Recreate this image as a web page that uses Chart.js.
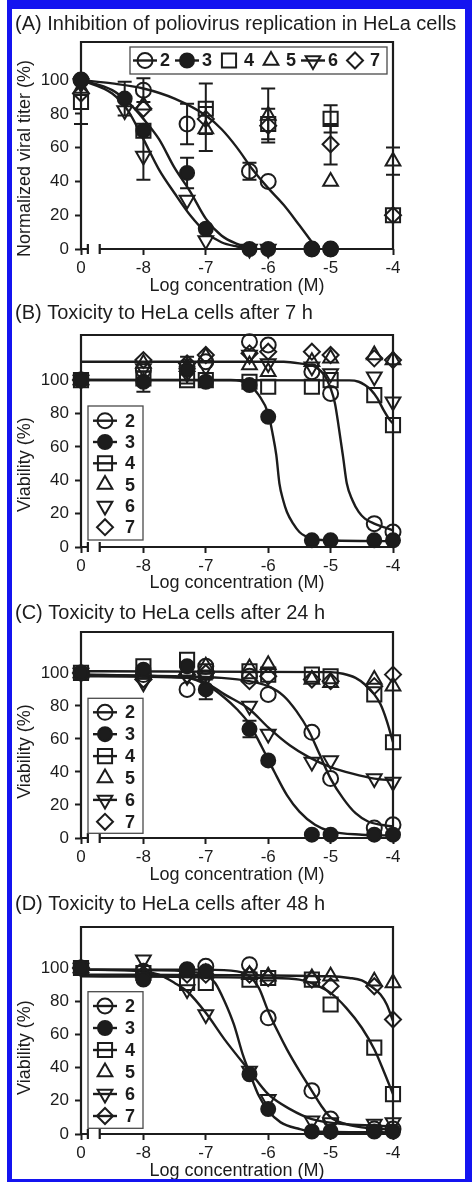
<!DOCTYPE html>
<html>
<head>
<meta charset="utf-8">
<script src="https://cdn.jsdelivr.net/npm/chart.js@4.4.1/dist/chart.umd.min.js"></script>
<style>
  html, body { margin: 0; padding: 0; background: #fff; }
  #page { position: relative; width: 472px; height: 1182px; overflow: hidden; background: #fff; }
  #page canvas { position: absolute; left: 0; }
  #frame { position: absolute; left: 7px; top: 0; width: 465px; height: 1182px; box-sizing: border-box;
           border: solid #1414f0; border-width: 9px 7px 3px 5px; pointer-events: none; }
</style>
</head>
<body>
<div id="page">
  <canvas id="panelA" width="472" height="297" style="top:0px"></canvas>
  <canvas id="panelB" width="472" height="297" style="top:297px"></canvas>
  <canvas id="panelC" width="472" height="292" style="top:594px"></canvas>
  <canvas id="panelD" width="472" height="296" style="top:886px"></canvas>
  <div id="frame"></div>
</div>
<script>
// log concentration (M); -9 is where the untreated "0" sample is plotted
const logConc = [-9, -8.3, -8, -7.3, -7, -6.3, -6, -5.3, -5, -4.3, -4];
const xTickValues = [-9, -8, -7, -6, -5, -4];
const yTickValues = [0, 20, 40, 60, 80, 100];
const compounds = ['2', '3', '4', '5', '6', '7'];

// (A) normalized viral titer (%) and error bars
const titerA2 = [100, null, 94, 74, null, 46, 40, 0, 0, null, null];
const titerA3 = [100, 89, 70, 45, 12, 0, 0, 0, 0, null, null];
const titerA4 = [87, null, 70, null, 83, null, 74, null, 77, null, 20];
const titerA5 = [95, null, 85, null, 71, null, 79, null, 40, null, 52];
const titerA6 = [98, 82, 55, 29, 5, 0, 0, null, null, null, null];
const titerA7 = [92, null, 83, null, 77, null, 73, null, 62, null, 20];
const errA2 = [null, null, 7, 12, null, 5, null, null, null, null, null];
const errA3 = [null, 10, null, 9, null, null, null, null, null, null, null];
const errA4 = [13, null, null, null, 15, null, 9, null, 8, null, null];
const errA5 = [null, null, null, null, 13, null, 16, null, null, null, 8];
const errA6 = [null, null, 14, null, null, null, null, null, null, null, null];
const errA7 = [null, null, null, null, null, null, null, null, 12, null, null];

// (B) viability after 7 h (%)
const viabB2 = [100, null, 106, 108, 111, 123, 121, 105, 92, 14, 9];
const viabB3 = [100, null, 99, 106, 99, 97, 78, 4, 4, 4, 4];
const viabB4 = [100, null, 101, 100, 100, 99, 96, 96, 100, 91, 73];
const viabB5 = [100, null, 110, 108, 114, 109, 105, 111, 113, 115, 112];
const viabB6 = [100, null, 107, 104, 108, 115, 110, 108, 104, 102, 87];
const viabB7 = [100, null, 112, 110, 115, 116, 117, 117, 115, 113, 112];
const errB3 = [null, null, 6, 8, null, null, null, null, null, null, null];

// (C) viability after 24 h (%)
const viabC2 = [100, null, 99, 90, 104, 98, 87, 64, 36, 6, 8];
const viabC3 = [100, null, 102, 104, 90, 66, 47, 2, 2, 2, 2];
const viabC4 = [100, null, 104, 108, 101, 101, 99, 99, 98, 87, 58];
const viabC5 = [100, null, 99, 101, 104, 103, 105, 96, 94, 96, 92];
const viabC6 = [100, null, 94, 98, 97, 80, 63, 46, 47, 36, 34];
const viabC7 = [100, null, 96, 99, 100, 95, 98, 96, 95, 92, 99];
const errC3 = [null, null, null, null, 6, 5, null, null, null, null, null];

// (D) viability after 48 h (%)
const viabD2 = [100, null, 98, 99, 101, 102, 70, 26, 9, 3, 3];
const viabD3 = [100, null, 93, 99, 98, 36, 15, 1.5, 1.5, 1.5, 1.5];
const viabD4 = [100, null, 97, 91, 91, 93, 94, 93, 78, 52, 24];
const viabD5 = [100, null, 97, 97, 97, 96, 95, 94, 95, 92, 91];
const viabD6 = [100, null, 105, 87, 72, 38, 21, 8, 7, 6, 7];
const viabD7 = [100, null, 96, 96, 96, 96, 94, 93, 89, 89, 69];

// fitted curves
const fitA2x = [-9, -8.5, -8, -7.5, -7, -6.75, -6.5, -6.25, -6, -5.75, -5.5, -5.22];
const fitA2y = [100, 98, 95, 89, 79, 71, 60, 47, 36, 26, 14, 0];
const fitA3x = [-9, -8.5, -8.25, -8, -7.75, -7.5, -7.25, -7, -6.75, -6.5, -6.25];
const fitA3y = [100, 94, 87, 77, 65, 48, 34, 18, 8, 3, 0];
const fitA6x = [-9, -8.5, -8.25, -8, -7.75, -7.5, -7.25, -7, -6.75, -6.5, -6.25];
const fitA6y = [100, 92, 82, 65, 47, 33, 20, 10, 4, 1.5, 0];

const fitB2x = [-9, -5.75, -5.5, -5.25, -5.1, -5, -4.93, -4.87, -4.8, -4.74, -4.65, -4.55, -4.45, -4.3, -4];
const fitB2y = [111, 111, 110, 108, 103, 95, 86, 72, 54, 38, 28, 21, 17, 14, 10];
const fitB3x = [-9, -6.6, -6.45, -6.3, -6.15, -6, -5.93, -5.87, -5.82, -5.76, -5.7, -5.6, -5.5, -5.38, -5.3, -4];
const fitB3y = [100, 100, 99.5, 97, 91, 80, 68, 55, 38, 28, 21, 14, 9, 6, 4.5, 3.5];
const fitB4x = [-9, -4.7, -4.55, -4.45, -4.35, -4.25, -4.15, -4.05, -4];
const fitB4y = [100, 99.8, 99, 97, 94, 89, 82, 76, 74];

const fitC2x = [-9, -7.5, -6.75, -6.3, -6, -5.75, -5.55, -5.35, -5.18, -5, -4.8, -4.6, -4.4, -4.2, -4];
const fitC2y = [99, 98, 97, 95, 92, 86, 77, 65, 51, 36, 24, 15, 10, 8, 7];
const fitC3x = [-9, -7.3, -7, -6.7, -6.5, -6.3, -6.1, -5.9, -5.7, -5.5, -5.25, -5, -4.5, -4];
const fitC3y = [99, 97, 93, 85, 78, 69, 55, 40, 26, 16, 8, 4, 2, 1.5];
const fitC4x = [-9, -5, -4.8, -4.6, -4.45, -4.3, -4.2, -4.1, -4];
const fitC4y = [101, 100.5, 99.5, 97, 93, 87, 81, 71, 58];
const fitC6x = [-9, -7.3, -7, -6.7, -6.3, -6, -5.65, -5.35, -5, -4.65, -4.3, -4];
const fitC6y = [98, 97, 94, 87, 78, 67, 56, 49, 43, 39, 36, 35];

const fitD2x = [-9, -7, -6.5, -6.3, -6.15, -6, -5.85, -5.7, -5.5, -5.3, -5.15, -5, -4.75, -4.5, -4];
const fitD2y = [99, 99, 98, 95, 88, 74, 62, 51, 38, 26, 17, 10, 6, 4, 2.5];
const fitD3x = [-9, -7.5, -7.2, -7, -6.85, -6.7, -6.55, -6.4, -6.3, -6.15, -6, -5.8, -5.5, -5.3, -4];
const fitD3y = [99, 98.5, 97.5, 96, 91, 80, 66, 47, 37, 23, 14, 7, 3, 1.5, 1];
const fitD4x = [-9, -6, -5.5, -5.25, -5, -4.75, -4.5, -4.3, -4.15, -4];
const fitD4y = [95, 94, 93, 90, 85, 76, 64, 51, 38, 24];
const fitD6x = [-9, -8, -7.75, -7.5, -7.3, -7, -6.7, -6.3, -6, -5.65, -5.3, -4.8, -4.3, -4];
const fitD6y = [99, 98, 96, 91, 86, 73, 57, 38, 24, 15, 9, 6, 5, 4.5];
const fitD7x = [-9, -5, -4.7, -4.5, -4.35, -4.2, -4.1, -4];
const fitD7y = [96, 95, 94, 92.5, 89, 84, 78, 68];

const INK = '#1c1c1c';
const FONT = "'Liberation Sans', Arial, Helvetica, sans-serif";
const AXIS_BREAK = [-8.89, -8.7];

const markers = {
  '2': { style: 'circle', radius: 7.5, rotation: 0, filled: false },
  '3': { style: 'circle', radius: 7, rotation: 0, filled: true },
  '4': { style: 'rect', radius: 10, rotation: 0, filled: false },
  '5': { style: 'triangle', radius: 8.5, rotation: 0, filled: false },
  '6': { style: 'triangle', radius: 8.5, rotation: 180, filled: false },
  '7': { style: 'rectRot', radius: 8, rotation: 0, filled: false }
};

function pairs(xs, ys, errs) {
  const out = [];
  xs.forEach((x, i) => {
    if (ys[i] !== null) out.push({ x: x, y: ys[i], err: errs ? errs[i] : null });
  });
  return out;
}

function buildDatasets(values, errors, fits) {
  const sets = [];
  compounds.forEach((c, k) => {
    const m = markers[c];
    sets.push({
      label: c,
      data: pairs(logConc, values[k], errors[k]),
      pointStyle: m.style,
      rotation: m.rotation,
      pointRadius: m.radius,
      pointHoverRadius: m.radius,
      borderColor: INK,
      backgroundColor: m.filled ? INK : 'rgba(0,0,0,0)',
      borderWidth: 2,
      order: m.filled ? 0 : 1,
      clip: false
    });
  });
  fits.forEach(f => {
    sets.push({
      type: 'line',
      data: pairs(f[0], f[1]),
      borderColor: INK,
      borderWidth: 2.4,
      pointRadius: 0,
      cubicInterpolationMode: 'monotone',
      fill: false,
      order: 5,
      clip: false
    });
  });
  return sets;
}

// left axis, top/right frame and the broken x axis
const framePlugin = {
  id: 'frame',
  beforeDatasetsDraw(chart) {
    const { ctx, chartArea: a, scales: { x } } = chart;
    const b1 = x.getPixelForValue(AXIS_BREAK[0]);
    const b2 = x.getPixelForValue(AXIS_BREAK[1]);
    ctx.save();
    ctx.strokeStyle = INK;
    ctx.lineWidth = 2.2;
    ctx.beginPath();
    ctx.moveTo(a.left, a.bottom + 1);
    ctx.lineTo(a.left, a.top);
    ctx.lineTo(a.right, a.top);
    ctx.lineTo(a.right, a.bottom);
    ctx.moveTo(a.left, a.bottom);
    ctx.lineTo(b1, a.bottom);
    ctx.moveTo(b2, a.bottom);
    ctx.lineTo(a.right, a.bottom);
    ctx.moveTo(b1, a.bottom - 5);
    ctx.lineTo(b1, a.bottom + 5);
    ctx.moveTo(b2, a.bottom - 5);
    ctx.lineTo(b2, a.bottom + 5);
    ctx.stroke();
    ctx.restore();
  }
};

const errorBarPlugin = {
  id: 'errorBars',
  beforeDatasetsDraw(chart) {
    const ctx = chart.ctx;
    const y = chart.scales.y;
    ctx.save();
    ctx.strokeStyle = INK;
    ctx.lineWidth = 2;
    chart.data.datasets.forEach((ds, i) => {
      const meta = chart.getDatasetMeta(i);
      ds.data.forEach((d, j) => {
        if (d.err === null || d.err === undefined) return;
        const el = meta.data[j];
        const top = y.getPixelForValue(d.y + d.err);
        const bot = y.getPixelForValue(d.y - d.err);
        ctx.beginPath();
        ctx.moveTo(el.x, top); ctx.lineTo(el.x, bot);
        ctx.moveTo(el.x - 7, top); ctx.lineTo(el.x + 7, top);
        ctx.moveTo(el.x - 7, bot); ctx.lineTo(el.x + 7, bot);
        ctx.stroke();
      });
    });
    ctx.restore();
  }
};

// rotated y title, centred on the 0-100 range rather than the whole axis
const yTitlePlugin = {
  id: 'yTitle',
  afterDraw(chart, args, o) {
    const ctx = chart.ctx;
    const cy = chart.scales.y.getPixelForValue(o.mid);
    ctx.save();
    ctx.translate(o.x, cy);
    ctx.rotate(-Math.PI / 2);
    ctx.font = '18px ' + FONT;
    ctx.fillStyle = INK;
    ctx.textAlign = 'center';
    ctx.textBaseline = 'middle';
    ctx.fillText(o.text, 0, 0);
    ctx.restore();
  }
};

const legendPlugin = {
  id: 'panelLegend',
  afterDatasetsDraw(chart, args, o) {
    const ctx = chart.ctx;
    const b = o.box;
    ctx.save();
    ctx.fillStyle = '#fff';
    ctx.fillRect(b[0], b[1], b[2] - b[0], b[3] - b[1]);
    ctx.strokeStyle = '#4a4a4a';
    ctx.lineWidth = 1.3;
    ctx.strokeRect(b[0], b[1], b[2] - b[0], b[3] - b[1]);
    compounds.forEach((c, i) => {
      const cx = o.row ? o.x + i * o.step : o.x;
      const cy = o.row ? o.y : o.y + i * o.step;
      const m = markers[c];
      if (o.lines.includes(c)) {
        ctx.beginPath();
        ctx.moveTo(cx - 12, cy);
        ctx.lineTo(cx + 12, cy);
        ctx.strokeStyle = INK;
        ctx.lineWidth = 2.4;
        ctx.stroke();
      }
      ctx.fillStyle = m.filled ? INK : 'rgba(0,0,0,0)';
      ctx.strokeStyle = INK;
      ctx.lineWidth = 2;
      Chart.helpers.drawPoint(ctx, { pointStyle: m.style, rotation: m.rotation, radius: m.radius, borderWidth: 2 }, cx, cy);
      ctx.fillStyle = INK;
      ctx.font = 'bold 18px ' + FONT;
      ctx.textAlign = 'left';
      ctx.textBaseline = 'middle';
      ctx.fillText(c, cx + o.textDx, cy + 1);
    });
    ctx.restore();
  }
};

function makePanel(id, p) {
  return new Chart(document.getElementById(id), {
    type: 'scatter',
    data: { datasets: p.datasets },
    options: {
      responsive: false,
      animation: false,
      devicePixelRatio: 1,
      layout: { padding: { left: 15, right: 0, top: 0, bottom: 0 } },
      plugins: {
        legend: { display: false },
        tooltip: { enabled: false },
        title: {
          display: true, text: p.title, align: 'start', color: INK,
          font: { family: FONT, size: 20, weight: 'normal' },
          padding: { top: p.titlePad[0], bottom: p.titlePad[1] }
        },
        yTitle: { text: p.yTitle, x: 25, mid: p.yTitleMid },
        panelLegend: p.legend
      },
      scales: {
        x: {
          type: 'linear', min: -9, max: -4,
          afterBuildTicks: s => { s.ticks = xTickValues.map(v => ({ value: v })); },
          afterFit: s => { s.height = p.xHeight; },
          ticks: {
            callback: v => (v === -9 ? '0' : String(v)),
            color: INK, font: { family: FONT, size: 17 }, padding: 3, maxRotation: 0, autoSkip: false
          },
          grid: { drawOnChartArea: false, tickLength: 6, tickWidth: 2, tickColor: INK },
          border: { display: false },
          title: { display: true, text: 'Log concentration (M)', color: INK, font: { family: FONT, size: 18 }, padding: 0 }
        },
        y: {
          type: 'linear', min: 0, max: p.yMax,
          afterBuildTicks: s => { s.ticks = yTickValues.map(v => ({ value: v })); },
          afterFit: s => { s.width = 66; },
          ticks: { color: INK, font: { family: FONT, size: 17 }, padding: 6 },
          grid: { drawOnChartArea: false, tickLength: 6, tickWidth: 2, tickColor: INK },
          border: { display: false }
        },
        yPad: {
          type: 'linear', position: 'right',
          afterFit: s => { s.width = 79; },
          ticks: { display: false }, grid: { display: false }, border: { display: false }
        }
      }
    },
    plugins: [framePlugin, errorBarPlugin, yTitlePlugin, legendPlugin]
  });
}

makePanel('panelA', {
  title: '(A) Inhibition of poliovirus replication in HeLa cells',
  titlePad: [12, 6], xHeight: 48, yMax: 122.5,
  yTitle: 'Normalized viral titer (%)', yTitleMid: 53.5,
  legend: { box: [130, 47, 387, 74], row: true, x: 145, y: 60.5, step: 42, textDx: 15, lines: ['2', '3', '6'] },
  datasets: buildDatasets(
    [titerA2, titerA3, titerA4, titerA5, titerA6, titerA7],
    [errA2, errA3, errA4, errA5, errA6, errA7],
    [[fitA2x, fitA2y], [fitA3x, fitA3y], [fitA6x, fitA6y]])
});

makePanel('panelB', {
  title: '(B) Toxicity to HeLa cells after 7 h',
  titlePad: [4, 10], xHeight: 47, yMax: 127,
  yTitle: 'Viability (%)', yTitleMid: 49.4,
  legend: { box: [88, 109, 143, 243], row: false, x: 105, y: 123.7, step: 21.3, textDx: 20, lines: ['2', '3', '4'] },
  datasets: buildDatasets(
    [viabB2, viabB3, viabB4, viabB5, viabB6, viabB7],
    [null, errB3, null, null, null, null],
    [[fitB2x, fitB2y], [fitB3x, fitB3y], [fitB4x, fitB4y]])
});

makePanel('panelC', {
  title: '(C) Toxicity to HeLa cells after 24 h',
  titlePad: [7, 7], xHeight: 48, yMax: 124.8,
  yTitle: 'Viability (%)', yTitleMid: 52.4,
  legend: { box: [88, 104.3, 143, 239.3], row: false, x: 105, y: 118.3, step: 21.9, textDx: 20, lines: ['2', '3', '4', '6'] },
  datasets: buildDatasets(
    [viabC2, viabC3, viabC4, viabC5, viabC6, viabC7],
    [null, errC3, null, null, null, null],
    [[fitC2x, fitC2y], [fitC3x, fitC3y], [fitC4x, fitC4y], [fitC6x, fitC6y]])
});

makePanel('panelD', {
  title: '(D) Toxicity to HeLa cells after 48 h',
  titlePad: [6, 11], xHeight: 48, yMax: 124.7,
  yTitle: 'Viability (%)', yTitleMid: 52,
  legend: { box: [88, 105.7, 143, 242.3], row: false, x: 105, y: 120, step: 22, textDx: 20, lines: ['2', '3', '4', '6', '7'] },
  datasets: buildDatasets(
    [viabD2, viabD3, viabD4, viabD5, viabD6, viabD7],
    [null, null, null, null, null, null],
    [[fitD2x, fitD2y], [fitD3x, fitD3y], [fitD4x, fitD4y], [fitD6x, fitD6y], [fitD7x, fitD7y]])
});
</script>
</body>
</html>
